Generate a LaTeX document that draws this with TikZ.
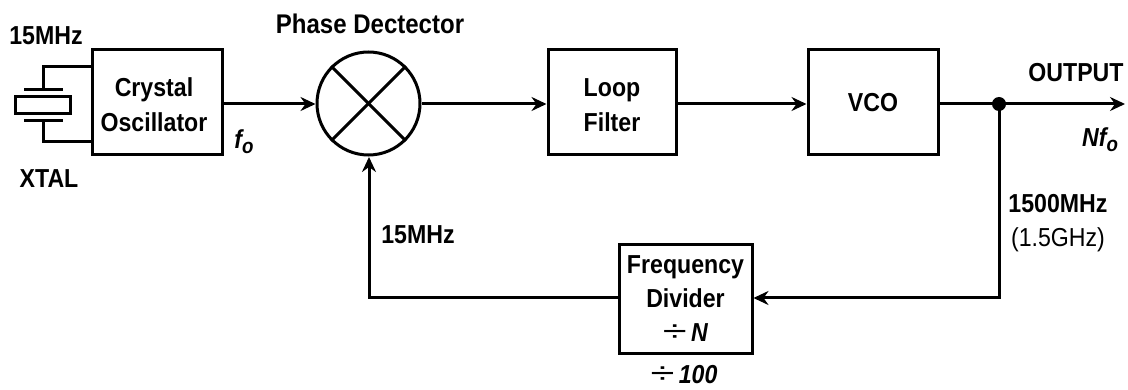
\documentclass[tikz,border=0pt]{standalone}
\usepackage{fontspec}
\setmainfont{Liberation Sans}[FakeStretch=0.89]
\newfontfamily\divfont{Liberation Sans}[FakeStretch=1.45]
\usetikzlibrary{arrows.meta,calc}
\newcommand{\subo}{\raisebox{-5pt}{\fontsize{21}{21}\selectfont o}}
\newcommand{\bigdiv}{\smash{{\divfont\mdseries\upshape\fontsize{30}{30}\selectfont ÷}}}
\newcommand{\topstrut}{\rule{0pt}{24pt}}
\tikzset{
  blockbox/.style={draw=black,line width=3pt,minimum width=130pt,minimum height=105pt,inner sep=0pt,align=center,font=\fontsize{26}{35}\selectfont\bfseries},
  lbl/.style={inner sep=0pt,font=\fontsize{26}{28}\selectfont\bfseries},
  wire/.style={line width=3pt,draw=black},
  flow/.style={wire,-{Stealth[length=15pt,width=14pt,inset=5pt]}},
}
\begin{document}
\begin{tikzpicture}[x=1pt,y=-1pt]
\useasboundingbox (0,0) rectangle (1128,390);
\node[blockbox,text width=124pt] (osc) at (157,102.5) {\hspace*{-6pt}\topstrut Crystal\\\hspace*{-6pt}Oscillator};
\node[blockbox,minimum width=128pt] (filter) at (612,102.5) {\topstrut Loop\\Filter};
\node[blockbox] (vco) at (873,102.5) {VCO};
\node[blockbox,minimum width=133pt,minimum height=108pt,font=\fontsize{26}{34}\selectfont\bfseries] (div) at (685.5,299) {Frequency\\Divider\\\bigdiv\,\textit{N}};
\node[draw=black,line width=3pt,circle,minimum size=103pt,inner sep=0pt] (pd) at (368.5,103.5) {};
\draw[wire] (pd.45) -- (pd.225);
\draw[wire] (pd.135) -- (pd.315);
\coordinate (jn) at (999,104);
\coordinate (out) at (1125,104);
\coordinate (low) at (999,298);
\coordinate (corner) at (369,298);
\coordinate (pdin) at (369,157);
\coordinate (oscout) at (222,104);
\draw[flow] (oscout) -- (pd.west |- oscout);
\draw[flow] (pd.east |- oscout) -- (filter.west |- oscout);
\draw[flow] (filter.east |- oscout) -- (vco.west |- oscout);
\draw[wire] (vco.east |- oscout) -- (jn);
\draw[flow] (jn) -- (out);
\draw[flow] (jn) -- (low) -- (div.east |- low);
\draw[flow] (div.west |- low) -- (corner) -- (pdin);
\node[circle,fill=black,minimum size=14pt,inner sep=0pt] (dot) at (jn) {};
% crystal
\coordinate (ct) at (92,67);
\coordinate (cb) at (92,142);
\node[draw=black,line width=3pt,minimum width=55pt,minimum height=17pt,inner sep=0pt] (xt) at (43,105.5) {};
\coordinate (pt) at (43,89.5);
\coordinate (pb) at (43,120.5);
\draw[wire] (ct) -- (43,67) -- (pt);
\draw[wire] (cb) -- (43,142) -- (pb);
\draw[wire] (24,89.5) -- (63,89.5);
\draw[wire] (24,120.5) -- (63,120.5);
% labels
\node[lbl] (l15a) at (46,36) {15MHz};
\node[lbl] (lxtal) at (49,179) {XTAL};
\node[lbl,font=\fontsize{27}{28}\selectfont\bfseries] (lpd) at (370,24) {Phase Dectector};
\node[lbl,font=\fontsize{26}{28}\selectfont\bfseries\itshape] (lfo) at (244,142) {f\subo};
\node[lbl] (l15b) at (418,235) {15MHz};
\node[lbl] (lout) at (1076,73) {OUTPUT};
\node[lbl,font=\fontsize{26}{28}\selectfont\bfseries\itshape] (lnf) at (1100,140) {Nf\subo};
\node[lbl] (l1500) at (1058,204) {1500MHz};
\node[lbl,font=\fontsize{26}{28}\selectfont] (l15g) at (1058,240) {(1.5GHz)};
\node[lbl] (l100) at (684,375) {\bigdiv\,\textit{100}};
\end{tikzpicture}
\end{document}
